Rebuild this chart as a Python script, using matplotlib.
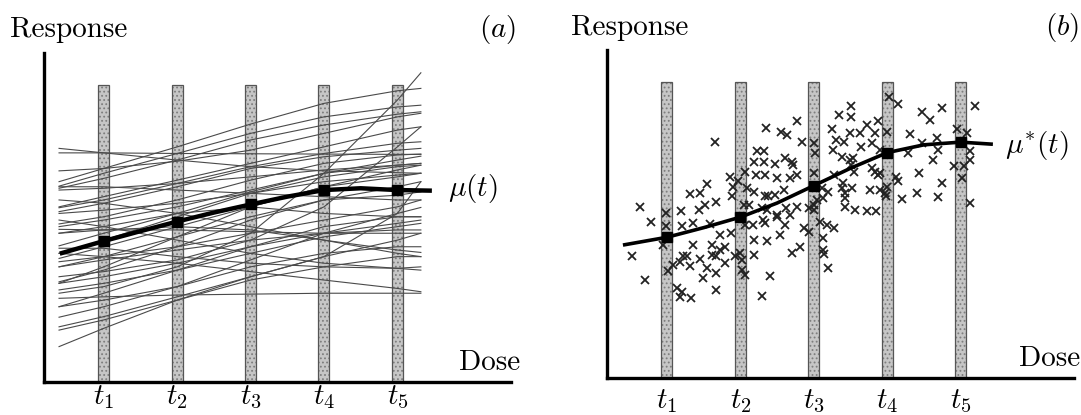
import matplotlib
matplotlib.use('Agg')
import matplotlib.pyplot as plt

plt.rcParams['mathtext.fontset'] = 'cm'
plt.rcParams['font.family'] = ['cmr10', 'DejaVu Serif']
plt.rcParams['axes.formatter.use_mathtext'] = True
plt.rcParams['hatch.linewidth'] = 0.8

# ---------------- data ----------------
t_pos = [1, 2, 3, 4, 5]
t_labels = [r'$t_1$', r'$t_2$', r'$t_3$', r'$t_4$', r'$t_5$']
bar_top_a = 9.90
bar_top_b = 9.89

# panel (a): individual response curves sampled at these doses
curve_dose = [0.39, 1, 2, 3, 4, 5, 5.32]
curves_a = [
    [7.79, 7.64, 7.40, 7.18, 7.04, 6.98, 6.96],
    [7.64, 7.64, 7.62, 7.61, 7.60, 7.59, 7.59],
    [7.04, 7.12, 7.36, 7.73, 8.29, 8.84, 8.96],
    [6.68, 7.12, 7.84, 8.60, 9.29, 9.71, 9.79],
    [6.53, 6.96, 7.62, 8.29, 8.84, 9.17, 9.23],
    [6.46, 6.79, 7.40, 8.07, 8.57, 8.93, 9.01],
    [5.81, 6.07, 6.62, 7.18, 7.62, 7.96, 8.01],
    [5.68, 5.96, 6.51, 7.12, 7.51, 7.73, 7.79],
    [5.62, 5.73, 5.96, 6.29, 6.68, 6.90, 6.96],
    [5.27, 5.51, 6.07, 6.73, 7.29, 7.57, 7.60],
    [5.18, 5.40, 5.84, 6.40, 6.96, 7.40, 7.53],
    [5.09, 5.07, 5.07, 5.01, 4.96, 4.96, 4.96],
    [4.54, 4.96, 5.62, 6.34, 6.96, 7.23, 7.29],
    [4.12, 4.51, 5.18, 5.84, 6.51, 7.07, 7.23],
    [4.01, 4.18, 4.51, 4.96, 5.40, 5.84, 6.07],
    [3.84, 4.07, 4.40, 4.73, 4.96, 5.07, 5.07],
    [3.34, 3.73, 4.51, 5.40, 6.07, 6.23, 6.34],
    [3.29, 3.51, 3.96, 4.51, 4.96, 5.29, 5.40],
    [4.29, 4.18, 3.96, 3.68, 3.40, 3.12, 3.01],
    [2.79, 2.84, 2.90, 2.93, 2.96, 2.96, 2.96],
    [2.51, 2.96, 3.73, 4.51, 5.18, 5.51, 5.51],
    [2.16, 2.51, 3.18, 4.07, 4.96, 5.62, 5.82],
    [1.84, 2.18, 2.84, 3.51, 4.18, 4.73, 4.96],
    [1.18, 1.79, 2.73, 3.51, 4.18, 5.62, 6.68],
    [2.96, 3.18, 3.84, 4.96, 6.96, 9.40, 10.31],
    [3.51, 3.68, 4.07, 4.73, 5.84, 7.84, 8.51],
    [4.96, 5.07, 5.18, 5.07, 4.73, 4.40, 4.32],
    [6.07, 5.96, 5.62, 5.18, 4.73, 4.29, 4.18],
    [5.40, 5.18, 4.73, 4.29, 3.96, 3.79, 3.73],
    [4.46, 4.46, 4.18, 3.96, 3.84, 3.79, 3.84],
    [6.51, 6.51, 6.40, 6.29, 6.18, 6.07, 6.07],
    [2.51, 2.73, 3.18, 3.84, 4.29, 4.51, 4.51],
    [5.84, 6.18, 6.73, 7.29, 7.84, 8.40, 8.51],
    [4.29, 4.73, 5.51, 6.29, 6.84, 7.18, 7.23],
    [3.29, 3.84, 4.84, 5.84, 6.51, 6.84, 6.96],
    [4.96, 5.18, 5.62, 5.84, 5.62, 5.51, 5.51],
    [3.84, 4.18, 4.84, 5.51, 6.07, 6.51, 6.68],
    [1.73, 2.07, 2.73, 3.40, 3.84, 4.18, 4.18],
    [3.07, 3.29, 3.73, 4.29, 4.84, 5.18, 5.29],
    [6.40, 6.46, 6.62, 6.84, 7.07, 7.23, 7.29],
]

# panel (a): mean curve mu(t)
mean_a_dose = [0.40, 1, 1.5, 2, 2.5, 3, 3.5, 4, 4.5, 5, 5.47]
mean_a_resp = [4.28, 4.70, 5.03, 5.35, 5.65, 5.92, 6.18, 6.40, 6.46, 6.40, 6.38]

# panel (b): mean curve mu*(t)
mean_b_dose = [0.40, 1.0, 1.5, 2.0, 2.5, 3.0, 3.5, 4.0, 4.5, 5.0, 5.44]
mean_b_resp = [4.44, 4.70, 5.02, 5.37, 5.84, 6.42, 7.00, 7.52, 7.78, 7.87, 7.80]
mean_marker_idx = [1, 3, 5, 7, 9]

# panel (b): observations
obs_dose = [
    1.65, 2.35, 2.56, 2.63, 2.22, 2.32, 2.19, 2.32, 2.47, 2.61, 2.70, 2.72,
    1.86, 1.97, 2.06, 2.21, 2.34, 2.50, 2.68,
    1.54, 1.45, 1.31,
    1.90, 2.09, 2.19, 2.34, 2.38, 2.47, 2.60,
    1.67, 1.52, 1.43, 1.19, 0.99,
    0.63, 0.78, 0.99,
    1.88, 2.05, 2.12, 2.30, 2.36, 2.50, 2.62, 2.68,
    1.20, 1.36, 1.58, 1.72, 1.87,
    2.06, 2.17, 2.31, 2.34, 2.50, 2.61, 2.54,
    0.52, 0.95,
    1.36, 1.22, 1.08, 1.18, 1.31, 1.27,
    1.61, 1.72, 1.79, 1.62, 1.79, 1.67, 1.45,
    1.93, 1.99, 2.02, 2.19, 2.36, 2.18, 2.70,
    1.02, 0.70, 1.49, 1.67, 1.54,
    2.02, 2.06, 2.40,
    1.13, 1.20, 1.33, 1.18, 1.67,
    2.29,
    2.77, 2.84, 2.77,
    3.35, 3.51, 3.51,
    3.25, 3.50, 3.63, 3.73, 3.83, 3.88,
    3.30, 3.41, 3.26, 3.65, 3.79, 3.90,
    3.38, 3.50, 3.54, 3.51,
    3.00, 3.01, 3.00,
    3.27, 3.40, 3.38, 3.52, 3.43, 3.42, 3.77,
    3.55, 3.79, 3.84, 3.87, 3.90,
    3.11, 3.20, 3.13, 3.04,
    2.77, 2.93, 3.00, 3.00,
    3.43, 3.56, 3.73, 3.85,
    3.09, 3.18, 3.27, 2.86, 2.93,
    2.81, 3.13, 3.13, 3.14, 3.20,
    4.02, 4.15, 4.00,
    4.12, 4.15, 4.00, 3.90, 3.97, 3.99, 4.20,
    4.31, 4.29, 4.43,
    4.47, 4.58, 4.75, 4.48,
    4.68, 4.69, 4.63,
    4.40, 4.74, 4.69,
    5.20, 4.95, 5.09,
    5.13, 5.13, 5.04, 4.91, 5.02, 5.13,
]
obs_resp = [
    7.89, 8.33, 8.22, 8.11, 7.56, 7.56, 7.22, 7.22, 7.14, 7.33, 7.22, 7.11,
    6.72, 6.56, 6.89, 6.78, 6.78, 6.67, 6.67,
    6.47, 6.19, 6.13,
    6.39, 6.33, 6.22, 6.06, 6.06, 6.11, 6.28,
    5.86, 5.78, 5.61, 5.59, 5.50,
    5.72, 5.22, 5.06,
    6.06, 5.78, 5.78, 5.67, 5.61, 5.44, 5.67, 5.44,
    5.06, 5.17, 5.14, 4.78, 4.83,
    5.11, 5.11, 5.28, 5.17, 5.39, 5.11, 4.78,
    4.06, 4.44,
    4.44, 4.06, 3.78, 3.89, 3.74, 4.09,
    4.44, 4.28, 4.39, 4.11, 3.83, 4.06, 3.97,
    4.06, 4.17, 3.94, 4.11, 4.56, 4.61, 4.17,
    3.56, 3.28, 3.33, 3.52, 3.67,
    3.61, 3.44, 3.41,
    3.00, 2.89, 2.67, 2.72, 2.94,
    2.74,
    8.56, 7.86, 6.78,
    8.78, 9.06, 8.72,
    8.30, 8.17, 8.19, 8.44, 8.19, 8.56,
    7.94, 7.86, 7.61, 7.70, 7.83, 7.61,
    7.39, 7.26, 7.33, 7.11,
    7.83, 7.52, 6.83,
    6.78, 6.50, 6.33, 6.33, 6.17, 6.00, 6.28,
    6.89, 7.00, 6.89, 6.78, 6.83,
    6.33, 6.22, 6.00, 5.94,
    5.72, 5.67, 5.78, 5.61,
    5.72, 5.61, 5.59, 5.59,
    5.22, 5.11, 5.02, 5.00, 4.89,
    4.39, 4.67, 4.28, 4.13, 3.67,
    9.39, 9.13, 8.22,
    6.72, 6.56, 6.39, 6.28, 6.17, 6.06, 5.97,
    8.14, 7.50, 6.83,
    8.89, 8.61, 9.00, 7.83,
    8.00, 7.61, 7.28,
    6.17, 6.50, 6.03,
    9.06, 8.30, 8.19,
    7.56, 7.26, 7.08, 7.06, 6.67, 5.83,
]

# ---------------- figure ----------------
W, H = 1081, 415
fig = plt.figure(figsize=(W / 100, H / 100), dpi=100)


def px_axes(x0, x1, y_top, y_bot):
    return fig.add_axes([x0 / W, 1 - y_bot / H, (x1 - x0) / W, (y_bot - y_top) / H])


ax_a = px_axes(44.0, 510.7, 53.3, 382.0)
ax_b = px_axes(607.3, 1074.0, 50.0, 378.3)
ax_a.set_xlim(0.185, 6.544)
ax_a.set_ylim(0, 10.96)
ax_b.set_xlim(0.187, 6.545)
ax_b.set_ylim(0, 10.94)

for ax, top, pad in [(ax_a, bar_top_a, 1.0), (ax_b, bar_top_b, 6.5)]:
    ax.set_facecolor('none')
    for s in ['top', 'right']:
        ax.spines[s].set_visible(False)
    for s in ['left', 'bottom']:
        ax.spines[s].set_linewidth(2.4)
        ax.spines[s].set_color('black')
    ax.set_yticks([])
    ax.set_xticks(t_pos, labels=t_labels)
    ax.tick_params(axis='x', length=0, pad=pad, labelsize=21)
    ax.bar(t_pos, top, width=0.15, color='#c6c6c6', edgecolor='#7e7e7e',
           hatch='....', linewidth=0, zorder=1)
    ax.bar(t_pos, top, width=0.15, fill=False, edgecolor='#555555',
           linewidth=0.9, zorder=1.5)

for c in curves_a:
    ax_a.plot(curve_dose, c, color='#4a4a4a', lw=0.8, zorder=2)
ax_a.plot(mean_a_dose, mean_a_resp, color='black', lw=3.2, zorder=4,
          marker='s', ms=7.5, markevery=mean_marker_idx, solid_capstyle='butt')

ax_b.plot(obs_dose, obs_resp, linestyle='none', marker='x', color='#222222',
          ms=6.3, mew=1.3, zorder=3)
ax_b.plot(mean_b_dose, mean_b_resp, color='black', lw=2.6, zorder=4,
          marker='s', ms=7.5, markevery=mean_marker_idx, solid_capstyle='butt')


def ftext(x, y, s, **kw):
    fig.text(x / W, 1 - y / H, s, fontsize=21, **kw)


ftext(10, 37, 'Response', ha='left', va='baseline')
ftext(516, 37, r'$(a)$', ha='right', va='baseline')
ftext(448, 188, r'$\mu(t)$', ha='left', va='center')
ftext(520, 370, 'Dose', ha='right', va='baseline')

ftext(571, 35, 'Response', ha='left', va='baseline')
ftext(1079, 35, r'$(b)$', ha='right', va='baseline')
ftext(1005, 146, r'$\mu^{*}(t)$', ha='left', va='center')
ftext(1080, 366.5, 'Dose', ha='right', va='baseline')

fig.savefig('out.png', dpi=100)
